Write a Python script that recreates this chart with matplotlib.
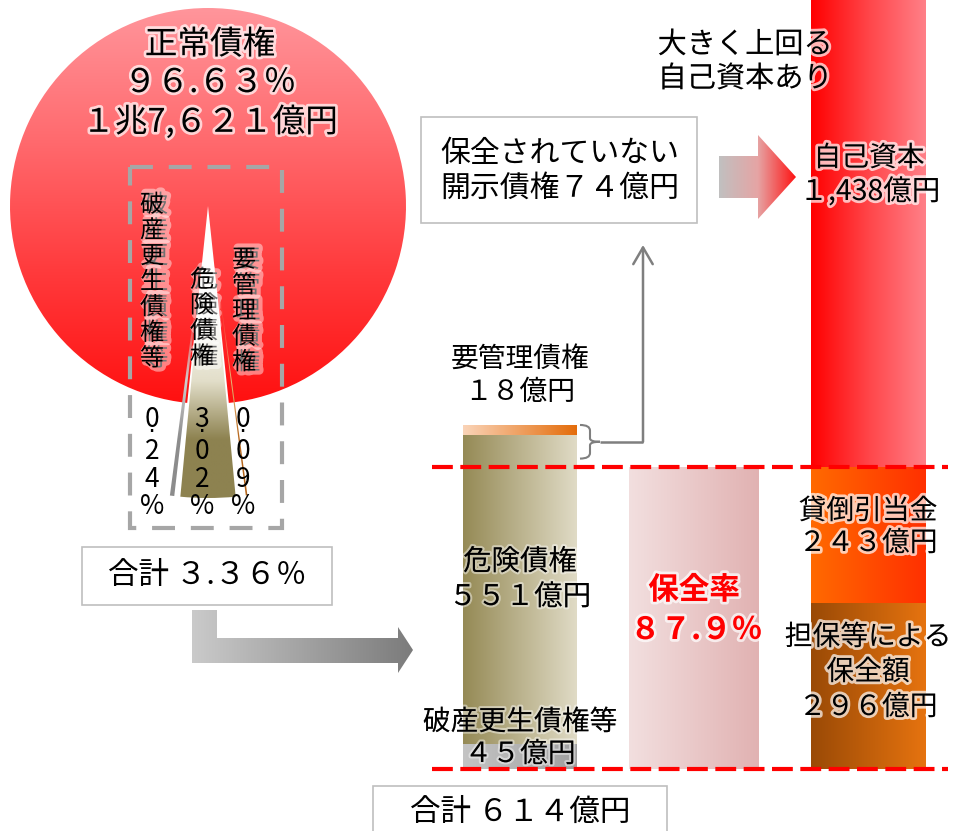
import numpy as np
import matplotlib
matplotlib.use("Agg")
import matplotlib.pyplot as plt
import matplotlib.patheffects as pe
from matplotlib.colors import to_rgba
from matplotlib.patches import Wedge, Rectangle, Polygon, PathPatch
from matplotlib.path import Path

plt.rcParams["font.family"] = ["Noto Sans CJK JP", "DejaVu Sans"]

# 開示債権の構成比 (%)
share_labels = ["正常債権", "破産更生債権等", "危険債権", "要管理債権"]
share_values = [96.63, 0.24, 3.02, 0.09]
normal_amount_text = "１兆7,６２１億円"
disclosed_share_total = 3.36

# 開示債権の内訳 (億円)  下から積み上げ
claim_labels = ["破産更生債権等", "危険債権", "要管理債権"]
claim_values = [45, 551, 18]
claim_total = 614
unsecured_value = 74

# 保全の内訳 (億円)  下から積み上げ
cover_labels = ["担保等による\n保全額", "貸倒引当金"]
cover_values = [296, 243]
coverage_rate = 87.9
equity_label = "自己資本"
equity_value = 1438

FULL = str.maketrans("0123456789%", "０１２３４５６７８９％")


def zen(s):
    return s.translate(FULL)


def ramp(colors, n=256):
    stops = np.linspace(0, 1, len(colors))
    rgba = np.array([to_rgba(c) for c in colors])
    t = np.linspace(0, 1, n)
    return np.stack([np.interp(t, stops, rgba[:, i]) for i in range(4)], axis=1)


def gradient(axis, patch, extent, colors, vertical=False, zorder=2):
    arr = ramp(colors)
    img = arr[:, None, :] if vertical else arr[None, :, :]
    im = axis.imshow(img, extent=extent, origin="upper", aspect="auto",
                     interpolation="bilinear", zorder=zorder)
    im.set_clip_path(patch)
    return im


W, H = 955, 831
fig = plt.figure(figsize=(W / 100, H / 100), dpi=100, facecolor="white")

# ---- bar axes: x in pixels, y in 億円 ----
px_per_unit = 0.5603
base_px = 769
bx = fig.add_axes([0, 0, 1, 1])
bx.set_xlim(0, W)
bx.set_ylim(-(H - base_px) / px_per_unit, base_px / px_per_unit)
bx.axis("off")
bx.patch.set_visible(False)

# ---- layout axes: pixel coordinates, y downward ----
ax = fig.add_axes([0, 0, 1, 1])
ax.set_xlim(0, W)
ax.set_ylim(H, 0)
ax.axis("off")
ax.patch.set_visible(False)

glow = [pe.withStroke(linewidth=4, foreground=(1, 1, 1, 0.7))]
soft = [pe.withStroke(linewidth=3, foreground=(1, 1, 1, 0.45))]

# ================= pie =================
cx, cy, R = 208, 206, 198
deg = [v / 100 * 360 for v in share_values]
gap = sum(deg[1:])
pie = Wedge((cx, cy), R, 90 + gap / 2, 450 - gap / 2, facecolor="none", edgecolor="none")
ax.add_patch(pie)
gradient(ax, pie, (cx - R, cx + R, cy + R, cy - R),
         ["#ff959b", "#ff6a6e", "#ff3a3c", "#ff1010"], vertical=True, zorder=1)

# exploded small slices (破産更生, 危険, 要管理)
r_small = 292
kw = deg[2]
slice_theta = [
    (90 + kw / 2 + 1.2, 90 + kw / 2 + 1.2 + deg[1]),
    (90 - kw / 2, 90 + kw / 2),
    (90 - kw / 2 - 2.0 - deg[3], 90 - kw / 2 - 2.0),
]
slice_cols = [("#cfcfcf", "#8c8c8c"), ("#e2dec9", "#8d8250"), ("#e8b878", "#b5651a")]
for (t1, t2), (lc, dc) in zip(slice_theta, slice_cols):
    w = Wedge((cx, cy), r_small, t1, t2, facecolor="none", edgecolor="none")
    ax.add_patch(w)
    gradient(ax, w, (cx - 80, cx + 80, cy + r_small, cy),
             [(lc, 0), (lc, 0), (lc, 0.2), (lc, 1), dc, dc], vertical=True, zorder=1.5)

ax.text(210, 45, share_labels[0], ha="center", va="center", fontsize=23.5, path_effects=glow, zorder=6)
ax.text(210, 83, zen(f"{share_values[0]:.2f}%"), ha="center", va="center", fontsize=23.5,
        path_effects=glow, zorder=6)
ax.text(210, 122, normal_amount_text, ha="center", va="center", fontsize=23.5, path_effects=glow, zorder=6)

# dashed frame around the disclosed claims
ax.add_patch(Rectangle((130, 167), 152, 361, fill=False, edgecolor="#a6a6a6", lw=3,
                       linestyle=(0, (5.5, 3.8)), zorder=5))

# vertical category names
name_pos = [(152, 205), (202, 280), (244, 260)]
name_shadow = [pe.Stroke(linewidth=6, foreground=(1, 1, 1, 0.45), offset=(3, 0)), pe.Normal()]
for name, (x, y0) in zip(share_labels[1:], name_pos):
    for i, ch in enumerate(name):
        ax.text(x, y0 + i * 25.6, ch, ha="center", va="center", fontsize=17.5,
                path_effects=name_shadow, zorder=6)

# vertical percentages (the decimal point sits under the leading digit)
pct_x = [152, 202, 243]
pct_baselines = [427, 459, 487, 514]
for v, x in zip(share_values[1:], pct_x):
    s = f"{v:.2f}%"
    glyphs = [s[0] + "\u0323"] + list(s[2:])
    for g, yb in zip(glyphs, pct_baselines):
        ax.text(x, yb, g, ha="center", va="baseline", fontsize=19, zorder=6)

# total share box
ax.add_patch(Rectangle((82, 547), 250, 58, facecolor="white", edgecolor="#bfbfbf", lw=1.2, zorder=5))
ax.text(207, 576, "合計 " + zen(f"{disclosed_share_total:.2f}%"), ha="center", va="center",
        fontsize=22, zorder=6)

# elbow arrow to the claim bar
elbow = Polygon([(192, 610), (217, 610), (217, 638), (398, 638), (398, 627), (413, 650),
                 (398, 673), (398, 663), (192, 663)], closed=True, facecolor="none", edgecolor="none")
ax.add_patch(elbow)
gradient(ax, elbow, (192, 413, 673, 610), ["#cacaca", "#7b7b7b"], zorder=3)

# ================= bars =================
claim_x, claim_w = 463, 114
claim_cols = [["#c4c4c4", "#a0a0a0"], ["#958a55", "#e0dbc6"], ["#fad4b8", "#e46c0a"]]
bottoms = np.concatenate([[0], np.cumsum(claim_values)[:-1]])
bars = bx.bar([claim_x] * 3, claim_values, width=claim_w, bottom=bottoms, align="edge",
              color="none", edgecolor="none")
for b, c in zip(bars, claim_cols):
    gradient(bx, b, (b.get_x(), b.get_x() + b.get_width(), b.get_y(), b.get_y() + b.get_height()), c)

protected = claim_total * coverage_rate / 100
pb = bx.bar([629], [protected], width=130, align="edge", color="none", edgecolor="none")[0]
gradient(bx, pb, (629, 759, 0, protected), ["#f2dfdf", "#e1b2b2"])

cov_x, cov_w = 811, 115
cov_cols = [["#9a4a06", "#e6730f"], ["#ff6a00", "#ff3000"]]
cov_bottoms = np.concatenate([[0], np.cumsum(cover_values)[:-1]])
cbars = bx.bar([cov_x] * 2, cover_values, width=cov_w, bottom=cov_bottoms, align="edge",
               color="none", edgecolor="none")
for b, c in zip(cbars, cov_cols):
    gradient(bx, b, (b.get_x(), b.get_x() + b.get_width(), b.get_y(), b.get_y() + b.get_height()), c)
eb = bx.bar([cov_x], [equity_value], width=cov_w, bottom=sum(cover_values), align="edge",
            color="none", edgecolor="none")[0]
gradient(bx, eb, (cov_x, cov_x + cov_w, sum(cover_values), sum(cover_values) + equity_value),
         ["#ff0000", "#ff4549", "#ff8088"])

# protected level and baseline
for lvl in (sum(cover_values), 0):
    bx.plot([432, 948], [lvl, lvl], color="#ff0000", lw=3, linestyle=(0, (5, 1.8)),
            solid_capstyle="butt", zorder=4)

# brace over the unprotected part
yt = sum(claim_values)
yb = yt - 60
ym = (yt + yb) / 2
bxr = claim_x + claim_w + 3
verts = [(bxr, yt), (bxr + 10, yt), (bxr + 10, yt - 10), (bxr + 10, ym + 6),
         (bxr + 10, ym), (bxr + 20, ym), (bxr + 10, ym), (bxr + 10, ym - 6),
         (bxr + 10, yb + 10), (bxr + 10, yb), (bxr, yb)]
codes = [Path.MOVETO, Path.CURVE3, Path.CURVE3, Path.LINETO, Path.CURVE3, Path.CURVE3,
         Path.CURVE3, Path.CURVE3, Path.LINETO, Path.CURVE3, Path.CURVE3]
bx.add_patch(PathPatch(Path(verts, codes), fill=False, edgecolor="#7f7f7f", lw=1.5, zorder=4))
bx.plot([bxr + 20, 643], [ym, ym], color="#7f7f7f", lw=1.8, zorder=4, solid_capstyle="butt")
ax.annotate("", xy=(643, 245), xycoords="data", xytext=(643, ym), textcoords=bx.transData,
            arrowprops=dict(arrowstyle="->,head_length=0.6,head_width=0.35", color="#7f7f7f",
                            lw=1.8, shrinkA=0, shrinkB=0, mutation_scale=20), zorder=4)

# unsecured box and arrow to equity
ax.add_patch(Rectangle((421, 117), 276, 106, facecolor="white", edgecolor="#bfbfbf", lw=1.2, zorder=5))
ax.text(560, 153, "保全されていない", ha="center", va="center", fontsize=21.5, zorder=6)
ax.text(560, 188, "開示債権" + zen(str(unsecured_value)) + "億円", ha="center", va="center",
        fontsize=21.5, zorder=6)
arrow = Polygon([(719, 156), (758, 156), (758, 135), (796, 177), (758, 219), (758, 198), (719, 198)],
                closed=True, facecolor="none", edgecolor="none")
ax.add_patch(arrow)
gradient(ax, arrow, (719, 796, 219, 135), ["#c0c0c0", "#e6a4a4", "#ff1010"], zorder=3)

# labels
ax.text(745, 45, "大きく上回る", ha="center", va="center", fontsize=21, path_effects=glow, zorder=6)
ax.text(745, 79, "自己資本あり", ha="center", va="center", fontsize=21, path_effects=glow, zorder=6)
eq_txt = f"{equity_value:,}"
ax.text(869, 158, equity_label, ha="center", va="center", fontsize=20, path_effects=glow, zorder=6)
ax.text(870, 192, zen(eq_txt[0]) + eq_txt[1:] + "億円", ha="center", va="center", fontsize=20.5,
        path_effects=glow, zorder=6)

ax.text(520, 359, claim_labels[2], ha="center", va="center", fontsize=20, zorder=6)
ax.text(520, 392, zen(str(claim_values[2])) + "億円", ha="center", va="center", fontsize=20, zorder=6)
ax.text(520, 562, claim_labels[1], ha="center", va="center", fontsize=20.5, path_effects=soft, zorder=6)
ax.text(520, 597, zen(str(claim_values[1])) + "億円", ha="center", va="center", fontsize=20.5,
        path_effects=soft, zorder=6)
ax.text(520, 722, claim_labels[0], ha="center", va="center", fontsize=20, path_effects=soft, zorder=6)
ax.text(520, 754, zen(str(claim_values[0])) + "億円", ha="center", va="center", fontsize=20,
        path_effects=soft, zorder=6)

ax.text(694, 590, "保全率", ha="center", va="center", fontsize=22, fontweight="bold",
        color="#ff0000", path_effects=glow, zorder=6)
ax.text(696, 630, zen(f"{coverage_rate:.1f}%"), ha="center", va="center", fontsize=22,
        fontweight="bold", color="#ff0000", path_effects=glow, zorder=6)

ax.text(868, 511, cover_labels[1], ha="center", va="center", fontsize=20, path_effects=glow, zorder=6)
ax.text(868, 543, zen(str(cover_values[1])) + "億円", ha="center", va="center", fontsize=20,
        path_effects=glow, zorder=6)
l1, l2 = cover_labels[0].split("\n")
ax.text(868, 637, l1, ha="center", va="center", fontsize=20, path_effects=glow, zorder=6)
ax.text(868, 672, l2, ha="center", va="center", fontsize=20, path_effects=glow, zorder=6)
ax.text(868, 707, zen(str(cover_values[0])) + "億円", ha="center", va="center", fontsize=20,
        path_effects=glow, zorder=6)

# total box
ax.add_patch(Rectangle((373, 786), 294, 70, facecolor="white", edgecolor="#bfbfbf", lw=1.2, zorder=5))
ax.text(520, 812, "合計 " + zen(str(claim_total)) + "億円", ha="center", va="center",
        fontsize=22, zorder=6)

ax.set_xlim(0, W)
ax.set_ylim(H, 0)
bx.set_xlim(0, W)
bx.set_ylim(-(H - base_px) / px_per_unit, base_px / px_per_unit)

fig.savefig("out.png", dpi=100, facecolor="white")
